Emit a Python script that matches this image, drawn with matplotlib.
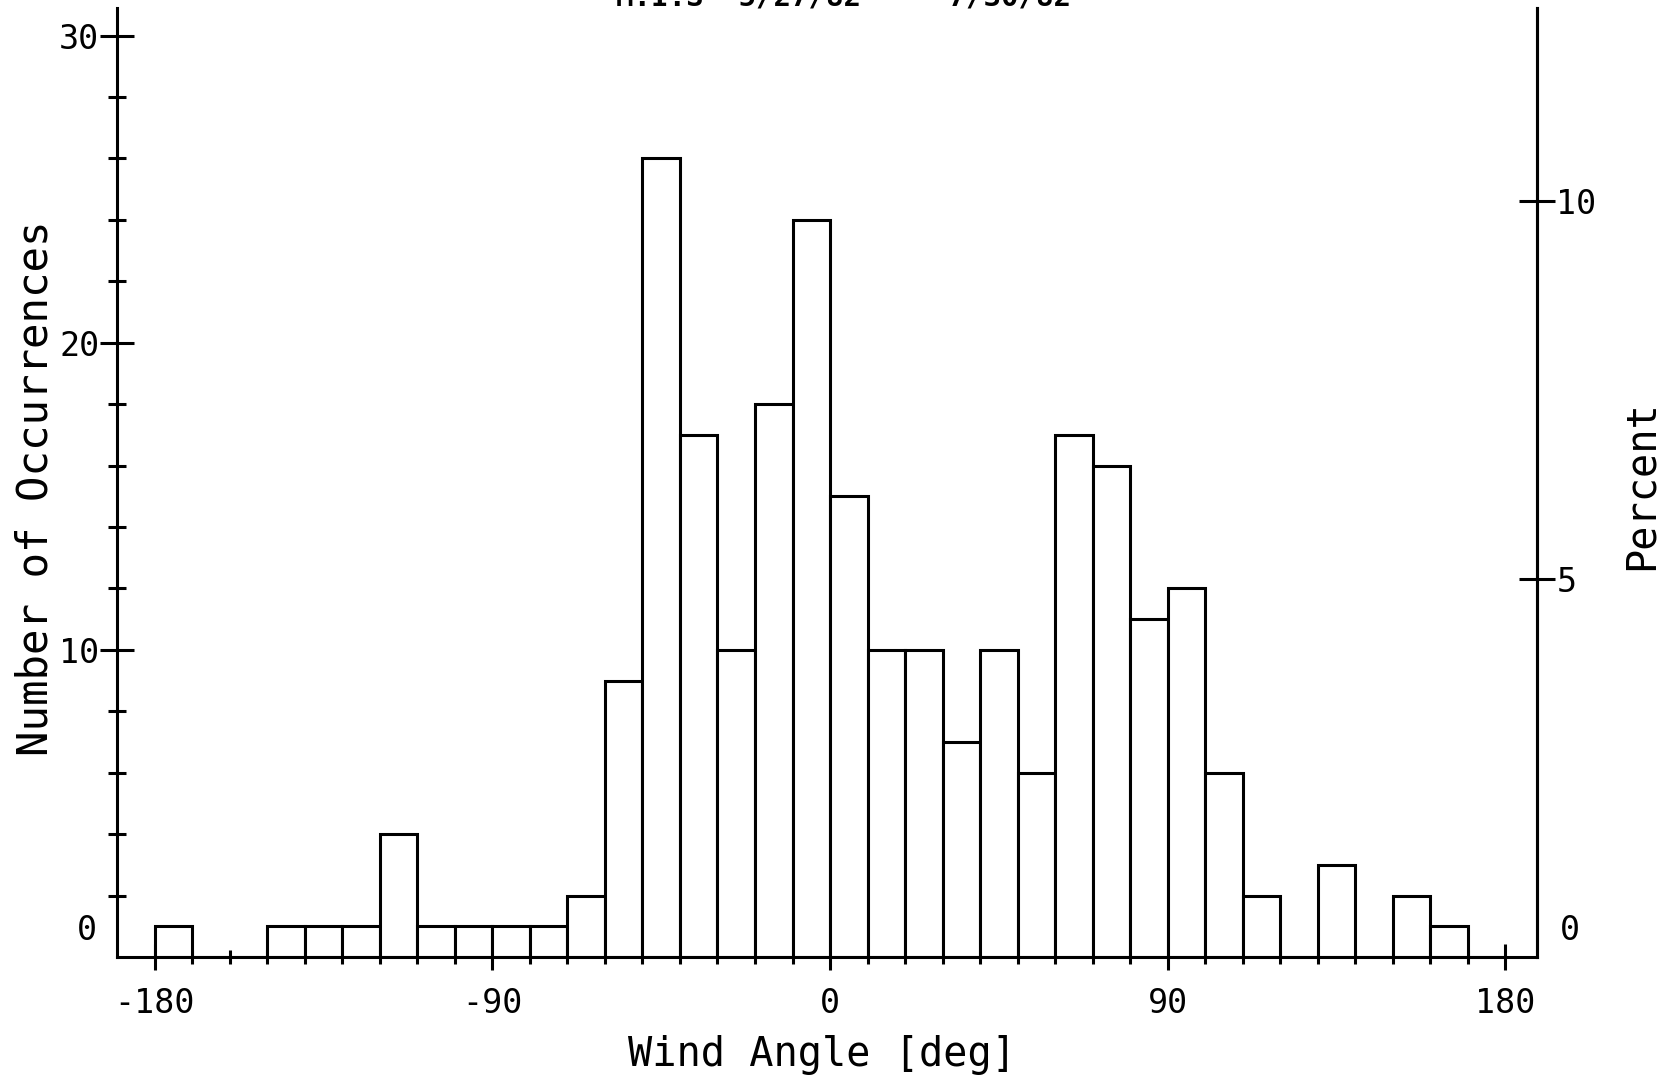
import matplotlib
matplotlib.use("Agg")
import matplotlib.pyplot as plt
import numpy as np

# ---- data ----
bin_left_edges = list(range(-180, 180, 10))
counts = [1, 0, 0, 1, 1, 1, 4, 1, 1, 1, 1, 2, 9, 26, 17, 10, 18, 24,
          15, 10, 10, 7, 10, 6, 17, 16, 11, 12, 6, 2, 0, 3, 0, 2, 1, 0]
x_major_ticks = [-180, -90, 0, 90, 180]
y_major_ticks = [10, 20, 30]
pct_ticks = [5, 10]
title_text = "M.I.S  5/27/82  -  7/30/82"
xlabel_text = "Wind Angle [deg]"
ylabel_text = "Number of Occurrences"
ylabel2_text = "Percent"

total = sum(counts)

FONT = "DejaVu Sans Mono"
plt.rcParams['font.family'] = FONT
LW = 2.2

fig = plt.figure(figsize=(16.73, 10.90), dpi=100)
ax = fig.add_axes([117.4 / 1673, 1 - 957 / 1090, (1537 - 117.4) / 1673, (957 - 8) / 1090])

ax.bar(bin_left_edges, counts, width=10, align='edge', facecolor='white',
       edgecolor='black', linewidth=LW, zorder=2)

ax.set_xlim(-190, 188.5)
ax.set_ylim(0, 30.9)

ax.spines['top'].set_visible(False)
for s in ['left', 'right', 'bottom']:
    ax.spines[s].set_linewidth(LW)

ax.set_xticks(x_major_ticks)
ax.set_xticklabels([str(v) for v in x_major_ticks])
ax.set_xticks(bin_left_edges + [180], minor=True)
ax.tick_params(axis='x', which='major', direction='inout', length=19, width=LW,
               labelsize=24, pad=12)
ax.tick_params(axis='x', which='minor', direction='inout', length=10, width=LW)

ax.set_yticks(y_major_ticks)
ax.set_yticklabels([str(v) for v in y_major_ticks])
ax.set_yticks([v for v in range(2, 31, 2) if v % 10 != 0], minor=True)
ax.tick_params(axis='y', which='major', direction='inout', length=24, width=LW,
               labelsize=24, pad=1, right=False)
ax.tick_params(axis='y', which='minor', direction='inout', length=13, width=LW,
               right=False)

# zero labels (drawn slightly above the baseline as in the original plot)
ax.text(-195.5, 0.85, "0", fontsize=24, ha='right', va='center', clip_on=False)

ax2 = ax.twinx()
ax2.set_ylim(0, 30.9 * 100.0 / total)
ax2.set_yticks(pct_ticks)
ax2.set_yticklabels([str(v) for v in pct_ticks])
ax2.tick_params(axis='y', direction='inout', length=26, width=LW, labelsize=24, pad=1)
for s in ['top', 'left', 'bottom']:
    ax2.spines[s].set_visible(False)
ax2.spines['right'].set_linewidth(LW)
ax.text(194.5, 0.85, "0", fontsize=24, ha='left', va='center', clip_on=False)

# axis labels
fig.text(822 / 1673, (1090 - 1066) / 1090, xlabel_text, fontsize=29,
         ha='center', va='baseline')
fig.text(48 / 1673, 1 - 488 / 1090, ylabel_text, fontsize=30.5, rotation=90,
         rotation_mode='anchor', ha='center', va='baseline')
fig.text(1653 / 1673, 1 - 485 / 1090, ylabel2_text, fontsize=29, rotation=90,
         rotation_mode='anchor', ha='center', va='baseline')

# title (cut off at the top edge in the original)
fig.text(843 / 1673, 1 - 5 / 1090, title_text, fontsize=21, fontweight='bold',
         ha='center', va='baseline')

fig.savefig("out.png", dpi=100)
